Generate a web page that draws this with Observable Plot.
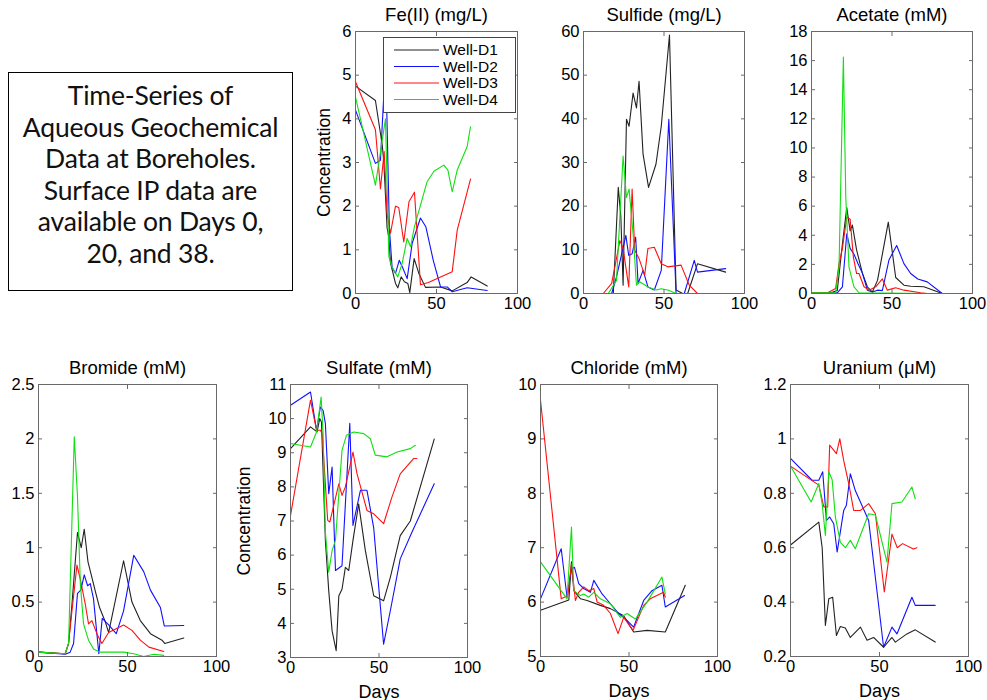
<!DOCTYPE html>
<html><head><meta charset="utf-8">
<script src="https://cdn.jsdelivr.net/npm/d3@7"></script>
<script src="https://cdn.jsdelivr.net/npm/@observablehq/plot@0.6"></script>
<style>
body{margin:0;background:#fff;}
#wrap{position:relative;width:987px;height:700px;overflow:hidden;background:#fff;}
.panel{position:absolute;}
#note{position:absolute;left:8px;top:72px;width:285px;height:219px;border:1px solid #000;box-sizing:border-box;font-family:Lato,sans-serif;font-size:26.5px;line-height:31.5px;text-align:center;padding-top:7px;color:#111;letter-spacing:-0.2px;}
#legend{position:absolute;left:383px;top:37px;}
</style></head>
<body><div id="wrap"></div>
<script>
const wells = ["Well-D1","Well-D2","Well-D3","Well-D4"];
const wellColors = ["#222222","#1010ff","#ff1010","#10e010"];
const xTicks = [0,50,100];

// Fe(II) (mg/L)
const feD1 = [[0,4.75],[12.3,4.42],[16.5,3.4],[17.5,3.0],[19.5,1.5],[20.5,1.3],[21.6,0.7],[24.7,0.23],[26.1,0.13],[28.2,0.38],[30.2,0.27],[32.3,0.23],[33.5,0.02],[36.2,0.8],[39.1,0.46],[43.2,0.14],[52.5,0.15],[59.7,0.06],[68.9,0.25],[71.4,0.38],[81.3,0.17]];
const feD2 = [[0,4.2],[12.3,2.98],[15.4,3.05],[18.3,5.15],[19.3,4.2],[20.9,1.5],[22.6,0.6],[24.7,0.46],[27,0.76],[29,0.6],[31.9,0.34],[35,1.15],[40.1,1.73],[43.4,1.53],[48,0.76],[52.5,0.15],[56.6,0.15],[59.7,0.04],[68.9,0.13],[81.3,0.07]];
const feD3 = [[0,4.85],[12.3,3.75],[15.4,2.4],[17.7,3.25],[19.5,1.83],[21.6,1.38],[24.7,2.0],[26.7,1.97],[29.8,1.18],[33,2.1],[36.4,2.32],[40.1,0.2],[45,0.25],[59.7,0.5],[62.8,1.45],[71,2.62]];
const feD4 = [[0,4.5],[12.3,2.48],[18.5,4.0],[20.6,0.84],[22.6,0.6],[26.1,0.38],[28.8,0.69],[31.9,1.26],[34,1.07],[36.4,1.53],[44.2,2.56],[48.4,2.8],[54.5,2.94],[57,2.83],[59.7,2.33],[62.8,2.83],[68.9,3.36],[71,3.82]];
const feYTicks = [0,1,2,3,4,5,6];

// Sulfide (mg/L)
const suD1 = [[18.5,0],[21.6,24.3],[23.2,17.6],[24.6,1.9],[26.7,39.9],[28.3,38.3],[30.8,45.9],[32.9,42.5],[34.5,48.6],[37,31.9],[40.4,24.3],[45,29.6],[48.3,38.3],[53.4,59.2],[57.5,0.8],[61.6,0],[64.7,0],[70.8,6.8],[88.3,4.9]];
const suD2 = [[17.5,0],[20.5,3.8],[26.3,13.3],[28.1,8.7],[30.2,9.1],[32.4,12.9],[33.9,2.3],[37,5.3],[40,1.5],[44,0.8],[48.3,5.3],[53,39.9],[57.5,0],[62.6,0],[68.8,7.6],[70.8,4.9],[88.3,5.7]];
const suD3 = [[12.3,0],[17.5,2.3],[22.6,12.1],[24.6,10.3],[28.1,1.5],[30.2,23.9],[31.8,9.9],[34.5,8],[38,4.2],[40,10.3],[44,10.6],[48.3,6.8],[52.4,6.1],[60.6,6.5],[65.7,1.9],[70.8,0]];
const suD4 = [[15.4,0],[20.5,3],[24.6,31.5],[26.7,22],[28.3,23.9],[30.8,13.7],[32.9,1.9],[34.9,2.7],[40,1.5],[45,0.8],[48.3,1.1],[52.4,0.8],[57.5,0],[70.8,0]];
const suYTicks = [0,10,20,30,40,50,60];

// Acetate (mM)
const acD1 = [[0,0.05],[12,0.05],[16,0.2],[19.2,3.4],[21.9,5.9],[24,4.3],[25.4,4.7],[28,3.0],[31.6,1.4],[34.7,0.46],[37.8,0.1],[41,0.9],[47.7,4.9],[52.3,1.1],[57.4,0.57],[61.6,0.5],[69.8,0.46],[81.2,0]];
const acD2 = [[0,0.05],[16,0.05],[19.2,0.46],[21.9,4.1],[24,3.1],[26.4,2.7],[28.9,2.05],[31.6,1.4],[34.7,0.23],[37.8,0.1],[41,0.23],[44,0.2],[48.1,2.3],[52.9,3.3],[57.4,2.05],[61.6,1.37],[66,1.0],[71.9,0.8],[81.2,0]];
const acD3 = [[0,0.05],[10,0.05],[15,0.34],[17.1,2.05],[19.2,3.1],[21.9,5.25],[24,5.1],[26,2.5],[28,1.37],[29.5,1.37],[32.6,0.46],[35.7,0.23],[39.9,0.46],[44,1.0],[47.1,0.23],[52.3,0.4],[57.4,0.23],[67.8,0.05],[71.9,0]];
const acD4 = [[0,0.05],[15,0.05],[17.1,1.8],[19.8,16.25],[21.3,6.6],[23.3,1.8],[26.4,0.46],[29.5,0.05],[71.9,0]];
const acYTicks = [0,2,4,6,8,10,12,14,16,18];

// Bromide (mM)
const brD1 = [[0,0.04],[15,0.025],[16.9,0.12],[18.8,0.48],[21.9,1.14],[24,1.0],[25.7,1.17],[27.8,0.87],[29.5,0.76],[31.9,0.6],[34.3,0.45],[37.5,0.32],[39.4,0.22],[47.8,0.88],[52.5,0.5],[57.2,0.33],[62.9,0.21],[69.4,0.15],[70.9,0.12],[81.6,0.17]];
const brD2 = [[0,0.04],[15,0.02],[17.8,0.04],[19.7,0.12],[21.9,0.58],[23.8,0.61],[25.7,0.75],[27.6,0.65],[29.1,0.67],[30.9,0.53],[33.9,0.025],[35.8,0.35],[39.4,0.29],[43.7,0.21],[47.8,0.42],[53.5,0.93],[59.1,0.78],[62.9,0.61],[68.5,0.45],[70.7,0.28],[81.6,0.285]];
const brD3 = [[0,0.04],[15,0.025],[16.9,0.12],[18.8,0.42],[21.6,0.84],[23.5,0.71],[26.3,0.48],[28.1,0.3],[30,0.33],[32.8,0.21],[35.6,0.12],[39.4,0.22],[47.8,0.29],[52.5,0.24],[57.2,0.15],[62,0.086],[70.4,0.046]];
const brD4 = [[0,0.04],[15,0.025],[16.9,0.12],[20.1,2.02],[21.9,1.47],[23.5,0.67],[25.3,0.3],[28.1,0.15],[30.9,0.07],[34.7,0.04],[42.2,0.04],[47.8,0.04],[53.5,0.025],[59.1,0],[64.7,0.02],[70.4,0.01]];
const brYTicks = [0,0.5,1,1.5,2,2.5];

// Sulfate (mM)
const soD1 = [[0,9.12],[11.3,9.76],[15,9.61],[16.5,10.0],[17.5,9.9],[19.7,6.43],[21.6,4.96],[23.5,3.78],[25.8,3.2],[27.3,4.81],[29.1,5.0],[31,5.64],[32.9,5.55],[35.3,6.43],[38.5,7.5],[42.3,6.13],[47,4.81],[52.6,4.66],[56.4,5.35],[62,6.57],[67.7,7.0],[81.2,9.4]];
const soD2 = [[0,10.39],[11.3,10.78],[14.7,9.66],[16.9,10.34],[18.4,10.24],[19.7,9.86],[21.6,7.8],[23.5,8.58],[25.4,5.55],[29.1,5.69],[33.5,9.86],[35.3,6.87],[39.5,7.9],[43.2,7.9],[47,6.8],[52.6,3.39],[56.4,4.37],[62,5.89],[68.6,6.67],[81.2,8.09]];
const soD3 = [[0,7.16],[11.3,10.54],[14.7,9.66],[16.9,9.66],[17.9,9.56],[21,7.02],[22.2,6.97],[27.3,8.09],[29.1,7.75],[31,8.0],[35.3,9.02],[37.6,8.38],[43.2,7.31],[47,7.21],[52.6,6.92],[57.3,7.7],[62,8.38],[69.5,8.83],[71.4,8.83]];
const soD4 = [[0,9.27],[11.3,9.17],[14.7,9.61],[17.3,10.63],[18.4,9.56],[19.7,6.68],[21.6,5.5],[23.5,6.13],[25.4,6.43],[29.1,9.07],[31.6,9.51],[35.7,9.61],[41.4,9.56],[45.1,9.41],[47.9,8.93],[54.5,8.88],[60.2,9.02],[67.7,9.12],[70.5,9.22]];
const soYTicks = [3,4,5,6,7,8,9,10,11];

// Chloride (mM)
const clD1 = [[0,5.85],[16,6.04],[17.5,6.74],[18.8,6.21],[22.6,6.06],[26.3,6.03],[33.8,5.94],[39.5,5.88],[47,5.75],[52.6,5.45],[60.2,5.48],[70.5,5.45],[81.8,6.31]];
const clD2 = [[0,6.06],[11.7,6.98],[15,6.09],[17.5,6.61],[19.2,6.64],[21.6,6.34],[24.4,6.25],[28.2,6.18],[30.1,6.4],[34.8,6.15],[39.5,5.97],[44.2,5.79],[48,5.69],[52.6,5.54],[58.3,6.03],[63,6.21],[68.6,6.31],[70.5,5.91],[81.4,6.12]];
const clD3 = [[0,9.71],[11.7,6.06],[15.4,6.12],[17.5,6.71],[19.7,6.03],[21.6,6.18],[24.4,6.28],[27.3,6.21],[30.1,6.25],[32,6.0],[35.7,5.94],[39.5,5.79],[43.8,5.42],[47,5.72],[52.3,5.48],[58.3,5.94],[62,6.06],[69.5,6.18],[70.5,6.09]];
const clD4 = [[0,6.74],[15,6.06],[17.5,7.38],[18.8,6.21],[22.6,6.12],[24.4,6.15],[27.3,6.09],[30.1,6.18],[33.8,6.06],[39.5,5.97],[45.1,5.72],[48.9,5.79],[53.6,5.69],[60.2,6.0],[68.6,6.46],[70.5,6.15]];
const clYTicks = [5,6,7,8,9,10];

// Uranium (uM)
const urD1 = [[0,0.61],[15.9,0.694],[17.8,0.6],[19.6,0.314],[21.5,0.412],[23.7,0.418],[25.8,0.277],[28,0.31],[30.8,0.305],[33.6,0.27],[39.3,0.308],[43,0.26],[46.7,0.27],[52.3,0.234],[57,0.27],[58.9,0.253],[65.4,0.283],[70.1,0.298],[81.3,0.253]];
const urD2 = [[0,0.928],[12.1,0.848],[15.9,0.848],[18.1,0.879],[20.2,0.70],[22,0.713],[24.3,0.688],[26.2,0.584],[29.9,0.737],[31.4,0.756],[33.6,0.872],[36.4,0.81],[43.9,0.7],[52.3,0.234],[57,0.308],[59.8,0.283],[68.2,0.418],[70.1,0.388],[81.3,0.388]];
const urD3 = [[0,0.9],[15.9,0.83],[18.7,0.75],[20.9,0.75],[22,0.977],[25.8,0.946],[27.7,1.0],[29.9,0.92],[32.7,0.836],[35.5,0.737],[39.3,0.737],[43.9,0.762],[47.7,0.725],[52.7,0.437],[57,0.65],[60,0.6],[63,0.615],[69,0.595],[71,0.6]];
const urD4 = [[0,0.9],[11.6,0.768],[15.9,0.836],[17.8,0.76],[19.6,0.645],[21.5,0.88],[23.4,0.85],[25.2,0.713],[28,0.62],[30.8,0.6],[33.6,0.627],[36.4,0.596],[43.9,0.725],[47.7,0.72],[54.2,0.547],[57,0.762],[62.6,0.768],[68.2,0.823],[70.1,0.78]];
const urYTicks = [0.2,0.4,0.6,0.8,1,1.2];

const fmt = d3.format("~g");
const wrap = document.getElementById("wrap");

function panel({title, L, R, T, B, yDomain, yTicks, series, ylabel, ylabelOffset, xlabel}) {
  const mL = Math.min(L, 62), mR = 16, mT = 34, mB = 44;
  const data = series.flatMap((s, i) => s.map(([day, v]) => ({well: wells[i], day, v})));
  const p = Plot.plot({
    width: R - L + mL + mR, height: B - T + mT + mB,
    marginLeft: mL, marginRight: mR, marginTop: mT, marginBottom: mB,
    style: {fontFamily: "'Liberation Sans', Arial, sans-serif", fontSize: "16px", color: "#000", background: "transparent", overflow: "visible"},
    x: {domain: [0, 100]},
    y: {domain: yDomain},
    color: {domain: wells, range: wellColors},
    marks: [
      Plot.line(data, {x: "day", y: "v", z: "well", stroke: "well", strokeWidth: 1.1}),
      Plot.frame({stroke: "#6a6a6a"}),
      Plot.axisX(xTicks, {anchor: "bottom", tickSize: -4, tickPadding: 8, tickFormat: fmt, stroke: "#6a6a6a", label: null, fontSize: 16.5}),
      ...(xlabel ? [Plot.axisX([], {anchor: "bottom", tickSize: 0, label: xlabel, labelAnchor: "center", labelOffset: 40, labelArrow: "none", fontSize: 18})] : []),
      Plot.axisX(xTicks, {anchor: "top", tickSize: -4, tickFormat: () => "", stroke: "#6a6a6a", label: null}),
      Plot.axisY(yTicks, {anchor: "left", tickSize: -4, tickPadding: 8, tickFormat: fmt, stroke: "#6a6a6a", label: null, fontSize: 16.5}),
      ...(ylabel ? [Plot.axisY([], {anchor: "left", tickSize: 0, label: ylabel, labelAnchor: "center", labelOffset: ylabelOffset, labelArrow: "none", fontSize: 17.5})] : []),
      Plot.axisY(yTicks, {anchor: "right", tickSize: -4, tickFormat: () => "", stroke: "#6a6a6a", label: null}),
      Plot.text([title], {frameAnchor: "top", dy: -11, lineAnchor: "bottom", fontSize: 18.5, fill: "#000"})
    ]
  });
  p.classList.add("panel");
  p.style.left = (L - mL) + "px";
  p.style.top = (T - mT) + "px";
  wrap.appendChild(p);
}

panel({title: "Fe(II) (mg/L)", L: 355, R: 517, T: 31, B: 293, yDomain: [0, 6], yTicks: feYTicks, series: [feD1, feD2, feD3, feD4], ylabel: "Concentration", ylabelOffset: 38});
panel({title: "Sulfide (mg/L)", L: 583, R: 744, T: 31, B: 293, yDomain: [0, 60], yTicks: suYTicks, series: [suD1, suD2, suD3, suD4]});
panel({title: "Acetate (mM)", L: 811, R: 972, T: 31, B: 293, yDomain: [0, 18], yTicks: acYTicks, series: [acD1, acD2, acD3, acD4]});
panel({title: "Bromide (mM)", L: 38, R: 216, T: 384, B: 656, yDomain: [0, 2.5], yTicks: brYTicks, series: [brD1, brD2, brD3, brD4]});
panel({title: "Sulfate (mM)", L: 290, R: 467, T: 384, B: 657, yDomain: [3, 11], yTicks: soYTicks, series: [soD1, soD2, soD3, soD4], ylabel: "Concentration", ylabelOffset: 53, xlabel: "Days"});
panel({title: "Chloride (mM)", L: 540, R: 717, T: 384, B: 656, yDomain: [5, 10], yTicks: clYTicks, series: [clD1, clD2, clD3, clD4], xlabel: "Days"});
panel({title: "Uranium (\u03BCM)", L: 790, R: 968, T: 384, B: 656, yDomain: [0.2, 1.2], yTicks: urYTicks, series: [urD1, urD2, urD3, urD4], xlabel: "Days"});

// legend in Fe(II) panel (one SVG: border, line samples, labels)
const NS = "http://www.w3.org/2000/svg";
const lg = document.createElementNS(NS, "svg");
lg.setAttribute("id", "legend");
lg.setAttribute("width", "133");
lg.setAttribute("height", "76");
const box = document.createElementNS(NS, "rect");
box.setAttribute("x", "0.5"); box.setAttribute("y", "0.5");
box.setAttribute("width", "132"); box.setAttribute("height", "75");
box.setAttribute("fill", "#fff"); box.setAttribute("stroke", "#444");
lg.appendChild(box);
wells.forEach((w, i) => {
  const cy = 13 + i * 16.5;
  const ln = document.createElementNS(NS, "line");
  ln.setAttribute("x1", "11"); ln.setAttribute("x2", "56");
  ln.setAttribute("y1", cy); ln.setAttribute("y2", cy);
  ln.setAttribute("stroke", wellColors[i]); ln.setAttribute("stroke-width", "1.1");
  lg.appendChild(ln);
  const tx = document.createElementNS(NS, "text");
  tx.setAttribute("x", "60"); tx.setAttribute("y", cy);
  tx.setAttribute("dy", "0.35em");
  tx.setAttribute("font-family", "'Liberation Sans', Arial, sans-serif");
  tx.setAttribute("font-size", "15.5");
  tx.textContent = w;
  lg.appendChild(tx);
});
wrap.appendChild(lg);

const note = document.createElement("div");
note.id = "note";
note.innerHTML = "Time-Series of<br>Aqueous Geochemical<br>Data at Boreholes.<br>Surface IP data are<br>available on Days 0,<br>20, and 38.";
wrap.appendChild(note);
</script>
</body></html>
